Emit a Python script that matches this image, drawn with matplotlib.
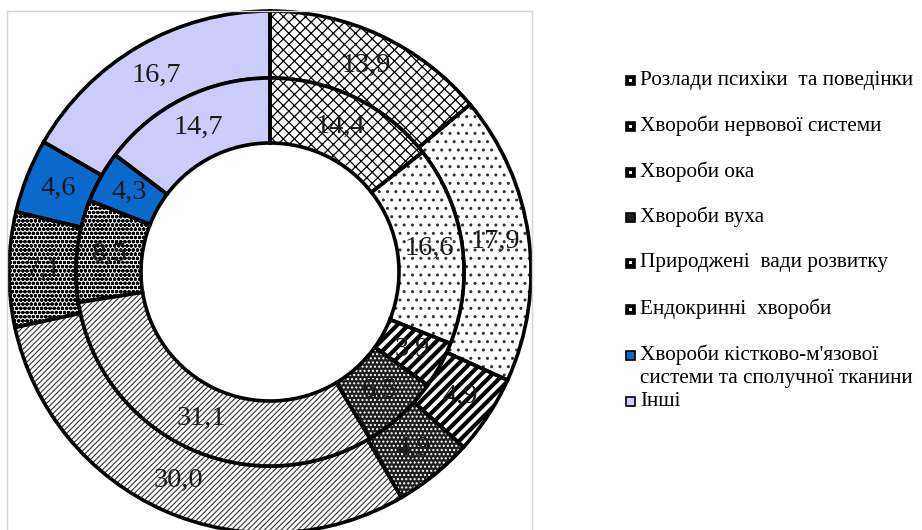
import matplotlib
matplotlib.use("Agg")
import matplotlib.pyplot as plt
from matplotlib.patches import Rectangle
import numpy as np

categories = [
    "Розлади психіки  та поведінки",
    "Хвороби нервової системи",
    "Хвороби ока",
    "Хвороби вуха",
    "Природжені  вади розвитку",
    "Ендокринні  хвороби",
    "Хвороби кістково-м'язової\nсистеми та сполучної тканини",
    "Інші",
]
outer_values = [13.9, 17.9, 4.9, 4.9, 30.0, 7.1, 4.6, 16.7]
inner_values = [14.4, 16.6, 3.9, 6.5, 31.1, 8.5, 4.3, 14.7]

# fill colour, hatch pattern, hatch colour for each category
faces = ["white", "white", "white", "#1e1e1e", "white", "white", "#0a6acb", "#ccccfb"]
hatches = ["xxx", "..", "///", "....", "//////", "oooo", None, None]
hatch_cols = ["black", "#333333", "black", "white", "#333333", "black", "black", "black"]
hatch_lws = [0.9, 1.0, 3.0, 1.0, 0.8, 1.2, 1.0, 1.0]

plt.rcParams["font.family"] = ["Liberation Serif", "DejaVu Serif"]

W, H = 922, 530
fig = plt.figure(figsize=(W / 100, H / 100), dpi=100)

# light frame around the chart area
fig.patches.append(Rectangle((7 / W, -0.05), (532 - 7) / W, (530 - 10.5) / H + 0.05,
                             transform=fig.transFigure, fill=False,
                             edgecolor="#d4d4d4", lw=1.0))

cx, cy, R = 270, 272, 261
ax = fig.add_axes([(cx - R) / W, (H - cy - R) / H, 2 * R / W, 2 * R / H])

r_mid = 194 / R
r_in = 129 / R
rings = [(outer_values, 1.0, 1.0 - r_mid), (inner_values, r_mid, r_mid - r_in)]

for vals, rad, width in rings:
    # patterned fills
    wedges, _ = ax.pie(vals, radius=rad, startangle=90, counterclock=False,
                       wedgeprops=dict(width=width, linewidth=0))
    for w, fc, h, hc, hl in zip(wedges, faces, hatches, hatch_cols, hatch_lws):
        w.set_facecolor(fc)
        w.set_edgecolor(hc)
        w.set_linewidth(0)
        if h:
            w.set_hatch(h)
            if hasattr(w, "set_hatch_linewidth"):
                w.set_hatch_linewidth(hl)
    # black outlines
    ax.pie(vals, radius=rad, startangle=90, counterclock=False,
           wedgeprops=dict(width=width, facecolor="none", edgecolor="black", linewidth=2.6))

    # value labels at the middle of each segment
    total = sum(vals)
    cum = 0.0
    r_lab = rad - width / 2
    for v in vals:
        mid = (cum + v / 2) / total * 360.0
        ang = np.deg2rad(90 - mid)
        ax.text(r_lab * np.cos(ang), r_lab * np.sin(ang), f"{v:.1f}".replace(".", ","),
                ha="center", va="center", fontsize=20.5, color="#1a1a1a")
        cum += v

ax.set_xlim(-1, 1)
ax.set_ylim(-1, 1)
ax.set_aspect("equal")
ax.axis("off")

# legend
legend_y = [80, 126, 172, 217, 263, 309, 355, 401]
for name, y, fc, h, hc in zip(categories, legend_y, faces, hatches, hatch_cols):
    sq = 9
    fig.patches.append(Rectangle((626 / W, (H - y - sq / 2) / H), sq / W, sq / H,
                                 transform=fig.transFigure,
                                 facecolor=fc if fc != "white" else "black",
                                 edgecolor="black", lw=1.2))
    if fc == "white":
        fig.patches.append(Rectangle((629 / W, (H - y - 1.5) / H), 3 / W, 3 / H,
                                     transform=fig.transFigure, facecolor="white",
                                     edgecolor="none"))
    lines = name.split("\n")
    fig.text(640 / W, (H - y) / H, lines[0], ha="left", va="center", fontsize=15.3, color="black")
    if len(lines) > 1:
        fig.text(640 / W, (H - y - 23) / H, lines[1], ha="left", va="center",
                 fontsize=15.3, color="black")

fig.savefig("out.png", dpi=100)
